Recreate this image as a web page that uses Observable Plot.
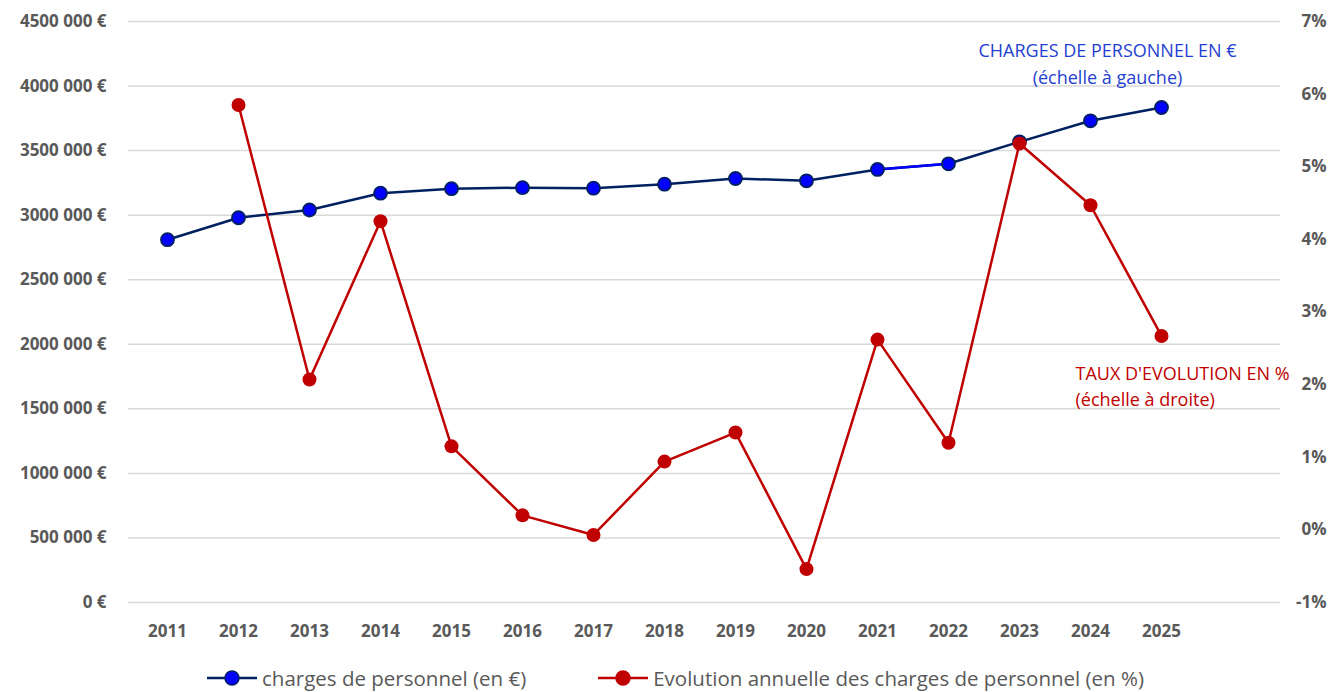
<!DOCTYPE html>
<html>
<head>
<meta charset="utf-8">
<script src="https://cdn.jsdelivr.net/npm/d3@7"></script>
<script src="https://cdn.jsdelivr.net/npm/@observablehq/plot@0.6"></script>
<style>
  html, body { margin: 0; padding: 0; background: #fff; }
  #chart svg { display: block; }
  #legend { display: flex; justify-content: center; align-items: center; gap: 72px; height: 36px; padding-left: 18px;
    font-family: "Open Sans", sans-serif; font-size: 20.5px; line-height: 1.2; color: #595959; }
  .item { display: flex; align-items: center; gap: 5px; }
</style>
</head>
<body>
<div id="chart"></div>
<div id="legend"></div>
<script>
const years = [2011, 2012, 2013, 2014, 2015, 2016, 2017, 2018, 2019, 2020, 2021, 2022, 2023, 2024, 2025];
const charges = [2810000, 2980000, 3040000, 3170000, 3205000, 3213000, 3209000, 3240000, 3284000, 3266000, 3354000, 3398000, 3568000, 3731000, 3834000];
const evolution = [null, 5.85, 2.07, 4.25, 1.15, 0.20, -0.07, 0.94, 1.34, -0.54, 2.62, 1.20, 5.32, 4.47, 2.67];
const leftTicks = [0, 500000, 1000000, 1500000, 2000000, 2500000, 3000000, 3500000, 4000000, 4500000];
const rightTicks = [-1, 0, 1, 2, 3, 4, 5, 6, 7];
const seriesNames = ["charges de personnel (en €)", "Evolution annuelle des charges de personnel (en %)"];
const blueLabel = "CHARGES DE PERSONNEL EN €\n(échelle à gauche)";
const redLabel = "TAUX D'EVOLUTION EN %\n(échelle à droite)";

const blueLine = "#002060", blueFill = "#0000ff", red = "#c00000", grey = "#595959";

// right (%) axis mapped onto the left (€) scale: -1% ↔ 0 €, 7% ↔ 4 500 000 €
const leftMax = leftTicks[leftTicks.length - 1];
const rMin = rightTicks[0], rMax = rightTicks[rightTicks.length - 1];
const pctToLeft = p => (p - rMin) / (rMax - rMin) * leftMax;
const leftToPct = v => v / leftMax * (rMax - rMin) + rMin;

const data = years.map((y, i) => ({year: y, charges: charges[i], evo: evolution[i]}));
const evoData = data.filter(d => d.evo != null);
const quirk = data.filter(d => d.year === 2021 || d.year === 2022);

const fmtEuro = v => v === 0 ? "0 €" : `${Math.floor(v / 1000)} ${String(v % 1000).padStart(3, "0")} €`;

const font = "'Open Sans', sans-serif";

const chart = Plot.plot({
  width: 1333,
  height: 660,
  marginLeft: 128,
  marginRight: 53,
  marginTop: 21,
  marginBottom: 58,
  style: {fontFamily: font, background: "#fff"},
  x: {type: "point", domain: years, range: [163, 1165], padding: 0},
  y: {domain: [0, leftMax], range: [602, 21]},
  marks: [
    Plot.ruleY(leftTicks, {stroke: "#d9d9d9", strokeWidth: 1.5}),
    Plot.axisY(leftTicks, {anchor: "left", tickSize: 0, tickPadding: 22, tickFormat: fmtEuro,
      fontSize: 17, fontWeight: 700, fill: grey, label: null}),
    Plot.axisY(rightTicks.map(pctToLeft), {anchor: "right", tickSize: 0, tickPadding: 46, textAnchor: "end",
      tickFormat: v => Math.round(leftToPct(v)) + "%", fontSize: 17, fontWeight: 700, fill: grey, label: null}),
    Plot.axisX(years, {anchor: "bottom", tickSize: 0, tickPadding: 22, tickFormat: d => String(d),
      fontSize: 17, fontWeight: 700, fill: grey, label: null}),
    Plot.line(data, {x: "year", y: "charges", stroke: blueLine, strokeWidth: 2.5}),
    Plot.line(quirk, {x: "year", y: "charges", stroke: blueFill, strokeWidth: 2.5}),
    Plot.dot(data, {x: "year", y: "charges", r: 6.5, fill: blueFill, stroke: blueLine, strokeWidth: 1.8}),
    Plot.line(evoData, {x: "year", y: d => pctToLeft(d.evo), stroke: red, strokeWidth: 2.5}),
    Plot.dot(evoData, {x: "year", y: d => pctToLeft(d.evo), r: 7, fill: red}),
    Plot.text([blueLabel], {frameAnchor: "top-left", dx: 979, dy: 40, textAnchor: "middle", lineAnchor: "middle",
      lineHeight: 1.5, fontSize: 18, fill: "#1f3fd1"}),
    Plot.text([redLabel], {frameAnchor: "top-left", dx: 947, dy: 363, textAnchor: "start", lineAnchor: "middle",
      lineHeight: 1.45, fontSize: 18, fill: red})
  ]
});
document.getElementById("chart").appendChild(chart);

// legend
const legend = d3.select("#legend");
[[seriesNames[0], blueLine, blueFill, blueLine], [seriesNames[1], red, red, red]].forEach(([name, line, fill, stroke]) => {
  const item = legend.append("div").attr("class", "item");
  const svg = item.append("svg").attr("width", 50).attr("height", 20);
  svg.append("line").attr("x1", 0).attr("x2", 50).attr("y1", 10).attr("y2", 10).attr("stroke", line).attr("stroke-width", 2.5);
  svg.append("circle").attr("cx", 25).attr("cy", 10).attr("r", 7).attr("fill", fill).attr("stroke", stroke).attr("stroke-width", 1.5);
  item.append("span").text(name);
});
</script>
</body>
</html>
